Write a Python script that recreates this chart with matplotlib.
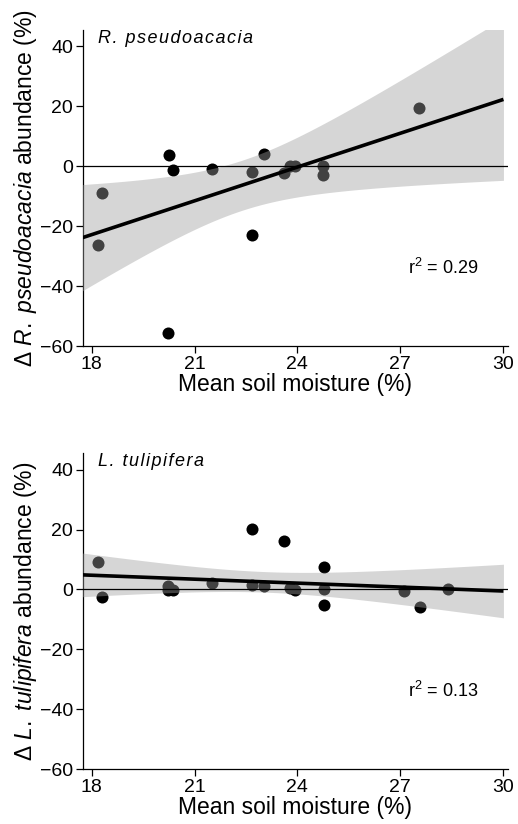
import numpy as np
import matplotlib
matplotlib.use('Agg')
import matplotlib.pyplot as plt

plt.rcParams['font.family'] = ['Liberation Sans', 'DejaVu Sans']
plt.rcParams['mathtext.fontset'] = 'custom'
plt.rcParams['mathtext.rm'] = 'Liberation Sans'
plt.rcParams['mathtext.it'] = 'Liberation Sans:italic'

# 数据：R. pseudoacacia
rp_moisture = [18.19, 18.31, 20.24, 20.37, 20.23, 21.52, 22.69, 22.69, 23.03,
               23.62, 23.78, 23.93, 24.75, 24.75, 27.56]
rp_change = [-26.2, -9.1, 3.7, -1.3, -55.7, -0.9, -1.8, -23.0, 4.2,
             -2.2, 0.0, 0.0, 0.0, -3.1, 19.5]

# 数据：L. tulipifera
lt_moisture = [18.18, 18.31, 20.23, 20.23, 20.37, 21.51, 22.69, 22.69, 23.03,
               23.62, 23.78, 23.93, 24.77, 24.77, 24.77, 27.11, 27.58, 28.41]
lt_change = [9.2, -2.4, 1.2, -0.2, -0.2, 2.0, 20.3, 1.4, 1.2,
             16.2, 0.3, -0.2, 7.5, 0.1, -5.2, -0.6, -6.0, 0.1]

species = ['R. pseudoacacia', 'L. tulipifera']
ylabels = [r'$\Delta$ $\it{R.\ pseudoacacia}$ abundance (%)',
           r'$\Delta$ $\it{L.\ tulipifera}$ abundance (%)']
r2_labels = ['0.29', '0.13']
xticks = [18, 21, 24, 27, 30]
yticks = [-60, -40, -20, 0, 20, 40]


def fit_band(x, y, xs, t=2.16):
    x = np.asarray(x)
    y = np.asarray(y)
    n = len(x)
    b, a = np.polyfit(x, y, 1)
    resid = y - (a + b * x)
    s = np.sqrt(np.sum(resid ** 2) / (n - 2))
    sxx = np.sum((x - x.mean()) ** 2)
    se = s * np.sqrt(1.0 / n + (xs - x.mean()) ** 2 / sxx)
    yhat = a + b * xs
    return yhat, yhat - t * se, yhat + t * se


fig = plt.figure(figsize=(5.18, 8.24), dpi=100)
ax1 = fig.add_axes([0.160, 0.580, 0.8205, 0.3835])
ax2 = fig.add_axes([0.160, 0.0667, 0.8205, 0.383])

datasets = [(rp_moisture, rp_change), (lt_moisture, lt_change)]
tvals = [2.16, 2.12]

for i, ax in enumerate([ax1, ax2]):
    x, y = datasets[i]
    ax.scatter(x, y, s=75, color='black', zorder=2, linewidths=0)
    xs = np.linspace(17.72, 30.02, 100)
    yhat, lo, hi = fit_band(x, y, xs, tvals[i])
    # 置信带盖在点上面
    ax.fill_between(xs, lo, hi, color='0.62', alpha=0.42, linewidth=0, zorder=3)
    ax.plot(xs, yhat, color='black', linewidth=2.6, zorder=4, solid_capstyle='butt')
    ax.axhline(0, color='black', linewidth=0.9, zorder=4)

    ax.set_xlim(17.74, 30.15)
    ax.set_ylim(-60, 45.4)
    ax.set_xticks(xticks)
    ax.set_yticks(yticks)
    ax.set_yticklabels(['\u2212' + str(-v) if v < 0 else str(v) for v in yticks])
    ax.tick_params(labelsize=14, length=5, width=0.9, direction='out', pad=2)
    for side in ['top', 'right']:
        ax.spines[side].set_visible(False)
    for side in ['left', 'bottom']:
        ax.spines[side].set_linewidth(0.9)
    ax.set_xlabel('Mean soil moisture (%)', fontsize=16.5, labelpad=0)
    ax.set_ylabel(ylabels[i], fontsize=16.5, labelpad=1)

    # 物种名字母间距较宽，用 hair space 拉开
    ax.text(0.035, 0.974, '\u200a'.join(species[i]), transform=ax.transAxes,
            fontsize=13, style='italic', ha='left', va='center')
    ax.text(0.765, 0.247, r'r$^2$ = ' + r2_labels[i], transform=ax.transAxes,
            fontsize=13, ha='left', va='center')

fig.savefig('out.png', dpi=100)
